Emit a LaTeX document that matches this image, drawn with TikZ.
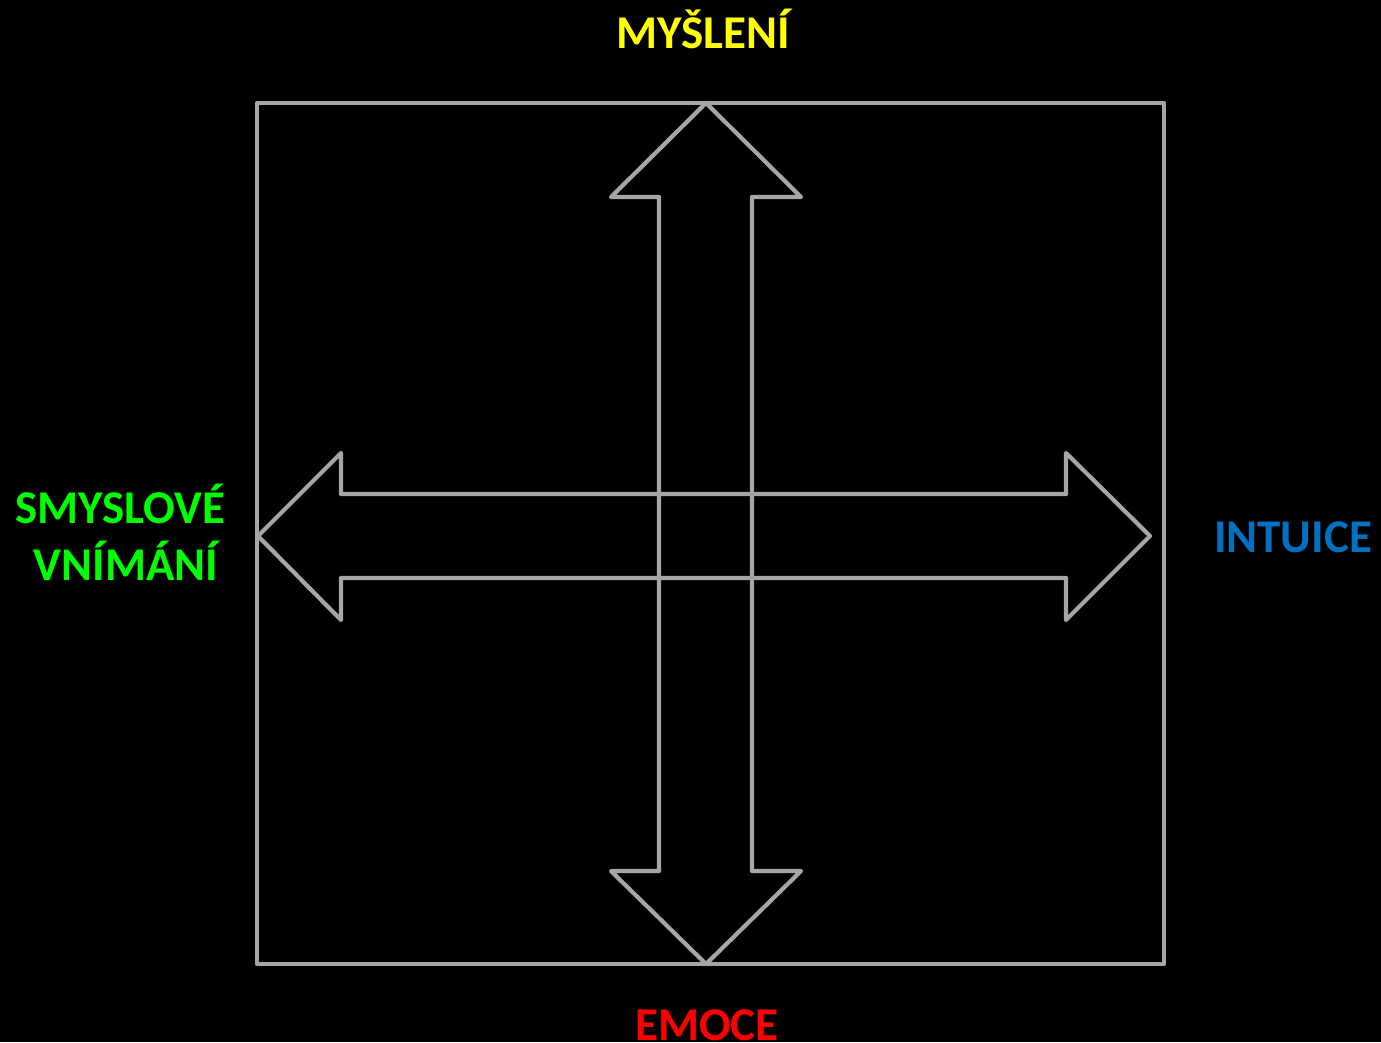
\documentclass[tikz,border=0pt]{standalone}
\usepackage{fontspec}
\setmainfont{Carlito}
\usepackage{xcolor}
\definecolor{framegray}{HTML}{A6A6A6}
\definecolor{thinkyellow}{HTML}{FFFF00}
\definecolor{senseGreen}{HTML}{00FF00}
\definecolor{intuitBlue}{HTML}{0070C0}
\definecolor{emoRed}{HTML}{FF0000}
\tikzset{
    outline/.style={draw=framegray, line width=4.2pt, line join=round},
    funclabel/.style={font=\fontsize{47}{57}\selectfont\bfseries, inner sep=0pt, anchor=base}
}

\begin{document}
\begin{tikzpicture}[x=1pt, y=-1pt]
        \fill[black] (0,0) rectangle (1381,1042);
        \useasboundingbox (0,0) rectangle (1381,1042);
        \draw[outline] (257,103) rectangle (1164,964);
        \draw[outline] (706,103) -- (801,197) -- (752,197) -- (752,871) -- (801,871) -- (706,964)
            -- (611,871) -- (659,871) -- (659,197) -- (611,197) -- cycle;
        \draw[outline] (258,536) -- (341,453) -- (341,494) -- (1066,494) -- (1066,453) -- (1150,536)
            -- (1066,620) -- (1066,578) -- (341,578) -- (341,620) -- cycle;
        \node[funclabel, text=thinkyellow] (mysleni) at (703,48) {MYŠLENÍ};
        \node[funclabel, text=intuitBlue] (intuice) at (1293,552) {INTUICE};
        \node[funclabel, text=emoRed] (emoce) at (707,1040) {EMOCE};
        \node[funclabel, text=senseGreen] (smyslove) at (120,523) {SMYSLOVÉ};
        \node[funclabel, text=senseGreen] (vnimani) at (126,580) {VNÍMÁNÍ};
    \end{tikzpicture}
\end{document}
